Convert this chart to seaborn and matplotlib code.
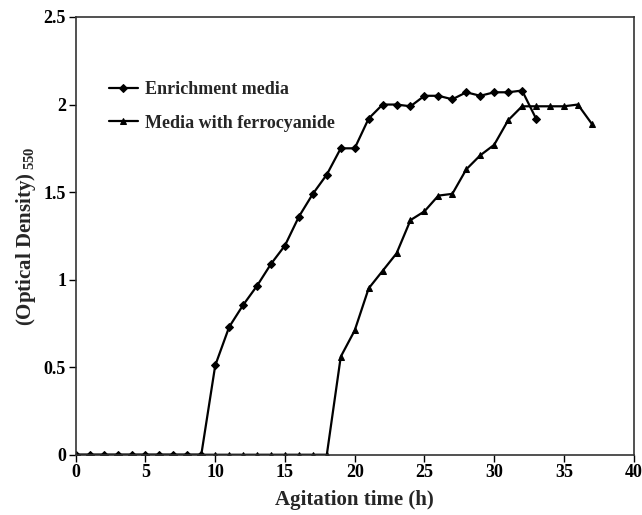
import matplotlib
matplotlib.use("Agg")
import matplotlib.pyplot as plt
import pandas as pd
import seaborn as sns

# agitation time (h) and optical density at 550 nm
hours_enrich = list(range(0, 34))
od_enrich = [0, 0, 0, 0, 0, 0, 0, 0, 0, 0,
             0.51, 0.73, 0.855, 0.965, 1.09, 1.195, 1.36, 1.49, 1.6, 1.75,
             1.75, 1.92, 2.0, 2.0, 1.99, 2.05, 2.05, 2.03, 2.07, 2.05,
             2.07, 2.07, 2.08, 1.92]

hours_ferro = list(range(0, 38))
od_ferro = [0, 0, 0, 0, 0, 0, 0, 0, 0, 0,
            0, 0, 0, 0, 0, 0, 0, 0, 0, 0.56,
            0.71, 0.95, 1.05, 1.15, 1.34, 1.39, 1.48, 1.49, 1.63, 1.71,
            1.77, 1.91, 1.99, 1.99, 1.99, 1.99, 2.0, 1.89]

x_ticks = [0, 5, 10, 15, 20, 25, 30, 35, 40]
y_ticks = [0, 0.5, 1, 1.5, 2, 2.5]
y_tick_labels = ["0", "0.5", "1", "1.5", "2", "2.5"]

df = pd.concat([
    pd.DataFrame({"hour": hours_enrich, "od": od_enrich, "medium": "Enrichment media"}),
    pd.DataFrame({"hour": hours_ferro, "od": od_ferro, "medium": "Media with ferrocyanide"}),
])

sns.set_style("white")
plt.rcParams["font.family"] = ["Liberation Serif", "DejaVu Serif"]
plt.rcParams["font.weight"] = "bold"
plt.rcParams["mathtext.fontset"] = "custom"
plt.rcParams["mathtext.rm"] = "Liberation Serif"

fig = plt.figure(figsize=(6.42, 5.15), dpi=100)
ax = fig.add_axes([0.118, 0.117, 0.869, 0.850])

sns.lineplot(
    data=df, x="hour", y="od", hue="medium", style="medium",
    markers={"Enrichment media": "D", "Media with ferrocyanide": "^"},
    dashes=False, palette=["black", "black"], linewidth=1.6,
    markersize=5, markeredgecolor="black", ax=ax,
)
# smaller diamonds, like the original
for ln in ax.lines:
    if ln.get_marker() == "D":
        ln.set_markersize(3.6)
    elif ln.get_marker() == "^":
        ln.set_markersize(4.6)

ax.set_xlim(0, 40)
ax.set_ylim(0, 2.5)
ax.set_xticks(x_ticks)
ax.set_yticks(y_ticks)
ax.set_yticklabels(y_tick_labels)
ax.tick_params(axis="both", direction="out", length=5, width=1, labelsize=13,
               bottom=True, left=True, colors="black", pad=2)
for lab in ax.get_xticklabels() + ax.get_yticklabels():
    lab.set_fontweight("bold")
for s in ax.spines.values():
    s.set_color("#333333")
    s.set_linewidth(1.2)

ax.set_xlabel("Agitation time (h)", fontsize=15, fontweight="bold", labelpad=6)
ax.set_ylabel(r"(Optical Density)$\,_{\mathrm{550}}$", fontsize=15, fontweight="bold", labelpad=4)

leg = ax.legend(loc="upper left", bbox_to_anchor=(0.03, 0.89), frameon=False,
                fontsize=13, handlelength=1.6, handletextpad=0.4, labelspacing=0.9,
                title=None)
for t in leg.get_texts():
    t.set_fontweight("bold")
for h in leg.legend_handles:
    if h.get_marker() == "D":
        h.set_markersize(3.6)
    elif h.get_marker() == "^":
        h.set_markersize(4.6)

fig.savefig("out.png", dpi=100)
